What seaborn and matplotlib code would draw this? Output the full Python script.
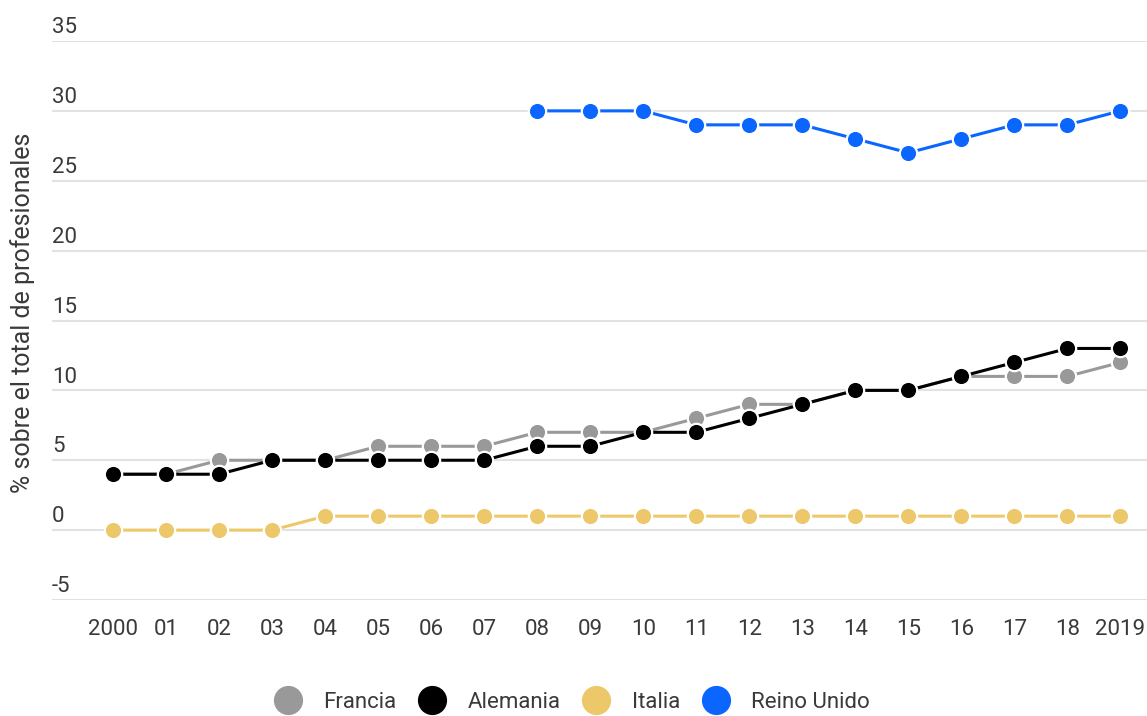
import matplotlib
matplotlib.use("Agg")
import matplotlib.pyplot as plt
import matplotlib.transforms as mtransforms
from matplotlib.lines import Line2D
import seaborn as sns
import pandas as pd

years = list(range(2000, 2020))
year_labels = ["2000", "01", "02", "03", "04", "05", "06", "07", "08", "09",
               "10", "11", "12", "13", "14", "15", "16", "17", "18", "2019"]

francia = [4, 4, 5, 5, 5, 6, 6, 6, 7, 7, 7, 8, 9, 9, 10, 10, 11, 11, 11, 12]
alemania = [4, 4, 4, 5, 5, 5, 5, 5, 6, 6, 7, 7, 8, 9, 10, 10, 11, 12, 13, 13]
italia = [0, 0, 0, 0, 1, 1, 1, 1, 1, 1, 1, 1, 1, 1, 1, 1, 1, 1, 1, 1]
reino_unido_years = list(range(2008, 2020))
reino_unido = [30, 30, 30, 29, 29, 29, 28, 27, 28, 29, 29, 30]

series_names = ["Francia", "Alemania", "Italia", "Reino Unido"]
colors = ["#999999", "#000000", "#EDC86A", "#0A66FF"]
y_ticks = [-5, 0, 5, 10, 15, 20, 25, 30, 35]

rows = []
for name, vals, yrs in [("Francia", francia, years), ("Alemania", alemania, years),
                        ("Italia", italia, years), ("Reino Unido", reino_unido, reino_unido_years)]:
    for y, v in zip(yrs, vals):
        rows.append({"year": y, "value": v, "serie": name})
df = pd.DataFrame(rows)

sns.set_theme(style="white")
plt.rcParams["font.family"] = ["Roboto", "DejaVu Sans"]
text_color = "#3a3a3a"

fig = plt.figure(figsize=(11.47, 7.16), dpi=100)
ax = fig.add_axes([52 / 1147, 1 - 600 / 716, 1 - 52 / 1147, (600 - 41) / 716])

for y in y_ticks:
    ax.axhline(y, color="#e2e2e2", lw=1.5, zorder=0)

sns.lineplot(data=df, x="year", y="value", hue="serie", hue_order=series_names,
             palette=dict(zip(series_names, colors)), marker="o", markersize=12.5,
             markeredgecolor="white", markeredgewidth=1.6, linewidth=2.2,
             legend=False, ax=ax, zorder=3)

ax.set_xlim(1998.85, 2019.5)
ax.set_ylim(-5, 35)
ax.set_xticks(years)
ax.set_xticklabels(year_labels, fontsize=16, color=text_color)
ax.tick_params(axis="x", length=0, pad=14)
ax.set_yticks([])
ax.set_xlabel("")
ax.set_ylabel("")
for s in ax.spines.values():
    s.set_visible(False)

# y labels sit just above their gridlines, left-aligned
off = mtransforms.ScaledTranslation(0, 2 / 72, fig.dpi_scale_trans)
tr = mtransforms.blended_transform_factory(ax.transAxes, ax.transData) + off
for y in y_ticks:
    ax.text(0.0, y, str(y), transform=tr, ha="left", va="bottom",
            fontsize=16, color=text_color)

fig.text(23 / 1147, 1 - 313 / 716, "% sobre el total de profesionales",
         rotation=90, ha="center", va="center", fontsize=18, color=text_color)

handles = [Line2D([], [], marker="o", linestyle="none", markersize=20,
                  markerfacecolor=c, markeredgecolor=c) for c in colors]
fig.legend(handles, series_names, loc="center", bbox_to_anchor=(0.5, 1 - 702 / 716),
           ncol=4, frameon=False, fontsize=16, handlelength=1.0, handletextpad=1.1,
           columnspacing=1.1, labelcolor=text_color, borderaxespad=0, borderpad=0)

fig.savefig("out.png", dpi=100)
